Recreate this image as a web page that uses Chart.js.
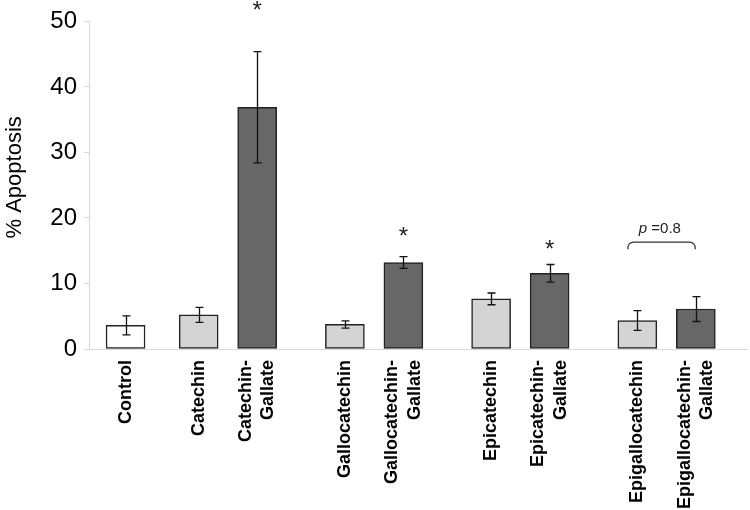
<!DOCTYPE html>
<html>
<head>
<meta charset="utf-8">
<script src="https://cdn.jsdelivr.net/npm/chart.js@4.4.1/dist/chart.umd.min.js"></script>
<style>
  html, body { margin: 0; padding: 0; background: #fff; }
  #c { display: block; }
</style>
</head>
<body>
<canvas id="c" width="750" height="510"></canvas>
<script>
// ---- data ----
const categories = ['Control', 'Catechin', ['Catechin-', 'Gallate'], 'Gallocatechin', ['Gallocatechin-', 'Gallate'],
                    'Epicatechin', ['Epicatechin-', 'Gallate'], 'Epigallocatechin', ['Epigallocatechin-', 'Gallate']];
const slots = [2, 7, 11, 17, 21, 27, 31, 37, 41];   // category slot of each bar (groups separated by gaps)
const slotCount = 45;
const apoptosis = [3.6, 5.2, 36.9, 3.75, 13.2, 7.65, 11.55, 4.35, 6.1];
const errors = [1.45, 1.15, 8.5, 0.55, 0.9, 0.9, 1.35, 1.5, 1.9];
const kinds = ['control', 'plain', 'gallate', 'plain', 'gallate', 'plain', 'gallate', 'plain', 'gallate'];
const stars = [null, null, 52.6, null, 18.2, null, 16.1, null, null];
const bracketPair = [7, 8];
const bracketValue = 16.3;
const pValueText = ['p', ' =0.8'];
const pValueLevel = 18.3;
const yTitle = '% Apoptosis';
const yMin = 0, yMax = 50, yStep = 10;

const kindColors = { control: '#ffffff', plain: '#d4d4d4', gallate: '#676767' };

// ---- build library tables ----
const labels = new Array(slotCount).fill('');
const values = new Array(slotCount).fill(null);
const errs = new Array(slotCount).fill(null);
const starVals = new Array(slotCount).fill(null);
const colors = new Array(slotCount).fill('#ffffff');
slots.forEach((s, i) => {
  labels[s] = categories[i];
  values[s] = apoptosis[i];
  errs[s] = errors[i];
  starVals[s] = stars[i];
  colors[s] = kindColors[kinds[i]];
});

const FONT = "'Liberation Sans', Arial, Helvetica, sans-serif";
const X_FONT_SIZE = 18, X_LINE_H = 1.25;

const centerMultiLine = {
  id: 'centerMultiLine',
  beforeDraw(chart) {
    const xs = chart.scales.x;
    const items = xs.getLabelItems();
    const lh = X_FONT_SIZE * X_LINE_H;
    items.forEach(it => {
      if (it._centered) return;
      const n = Array.isArray(it.label) ? it.label.length : 1;
      if (n > 1) it.options.translation[0] -= (n - 1) * lh / 2;
      it._centered = true;
    });
  }
};

const annotations = {
  id: 'annotations',
  afterDatasetsDraw(chart) {
    const ctx = chart.ctx;
    const ys = chart.scales.y;
    const meta = chart.getDatasetMeta(0);
    ctx.save();
    // y axis title
    ctx.fillStyle = '#000';
    ctx.font = '22px ' + FONT;
    ctx.textAlign = 'center';
    ctx.textBaseline = 'middle';
    ctx.translate(15, ys.getPixelForValue(26.2));
    ctx.rotate(-Math.PI / 2);
    ctx.fillText(yTitle, 0, 0);
    ctx.setTransform(1, 0, 0, 1, 0, 0);
    // error bars
    ctx.strokeStyle = '#111';
    ctx.lineWidth = 1.3;
    meta.data.forEach((bar, i) => {
      if (values[i] == null) return;
      const x = Math.round(bar.x) + 0.5;
      const top = ys.getPixelForValue(values[i] + errs[i]);
      const bot = ys.getPixelForValue(values[i] - errs[i]);
      const cap = 4;
      ctx.beginPath();
      ctx.moveTo(x, top); ctx.lineTo(x, bot);
      ctx.moveTo(x - cap, top); ctx.lineTo(x + cap, top);
      ctx.moveTo(x - cap, bot); ctx.lineTo(x + cap, bot);
      ctx.stroke();
    });
    // significance stars
    ctx.fillStyle = '#222';
    ctx.font = '24px ' + FONT;
    ctx.textAlign = 'center';
    ctx.textBaseline = 'alphabetic';
    meta.data.forEach((bar, i) => {
      if (starVals[i] == null) return;
      const y = ys.getPixelForValue(starVals[i]);
      ctx.fillText('*', bar.x, y + 0.58 * 24);
    });
    // bracket with p value
    const b1 = meta.data[slots[bracketPair[0]]];
    const b2 = meta.data[slots[bracketPair[1]]];
    const xl = b1.x - 9.5, xr = b2.x - 0.5;
    const yt = ys.getPixelForValue(bracketValue);
    const drop = 7, r = 6;
    ctx.strokeStyle = '#333';
    ctx.lineWidth = 1.2;
    ctx.beginPath();
    ctx.moveTo(xl, yt + drop);
    ctx.quadraticCurveTo(xl, yt, xl + r, yt);
    ctx.lineTo(xr - r, yt);
    ctx.quadraticCurveTo(xr, yt, xr, yt + drop);
    ctx.stroke();
    const ty = ys.getPixelForValue(pValueLevel);
    ctx.fillStyle = '#222';
    ctx.textAlign = 'left';
    ctx.textBaseline = 'middle';
    let tx = b1.x + 1.5;
    ctx.font = 'italic 15px ' + FONT;
    ctx.fillText(pValueText[0], tx, ty);
    tx += ctx.measureText(pValueText[0]).width;
    ctx.font = '15px ' + FONT;
    ctx.fillText(pValueText[1], tx, ty);
    ctx.restore();
  }
};

new Chart(document.getElementById('c'), {
  type: 'bar',
  data: {
    labels: labels,
    datasets: [{
      data: values,
      backgroundColor: colors,
      borderColor: '#222222',
      borderWidth: 1.5,
      borderSkipped: false,
      barThickness: 39
    }]
  },
  options: {
    responsive: false,
    animation: false,
    devicePixelRatio: 1,
    layout: { padding: { top: 20, right: 3, left: 0, bottom: 0 } },
    plugins: { legend: { display: false }, tooltip: { enabled: false } },
    scales: {
      x: {
        grid: { display: false, drawTicks: false },
        border: { display: true, color: '#d9d9d9', width: 1 },
        ticks: {
          autoSkip: false,
          minRotation: 90,
          maxRotation: 90,
          padding: 11,
          color: '#000',
          font: { family: FONT, size: X_FONT_SIZE, weight: 'bold', lineHeight: X_LINE_H }
        },
        afterFit(scale) { scale.height = 161; scale.paddingLeft = 0; scale.paddingRight = 0; }
      },
      y: {
        min: yMin,
        max: yMax,
        grid: { drawOnChartArea: false, drawTicks: true, tickLength: 5, color: '#d9d9d9' },
        border: { display: true, color: '#d9d9d9', width: 1 },
        ticks: {
          stepSize: yStep,
          padding: 7,
          color: '#000',
          font: { family: FONT, size: 24 }
        },
        title: { display: false },
        afterFit(scale) { scale.width = 89; }
      }
    }
  },
  plugins: [centerMultiLine, annotations]
});
</script>
</body>
</html>
